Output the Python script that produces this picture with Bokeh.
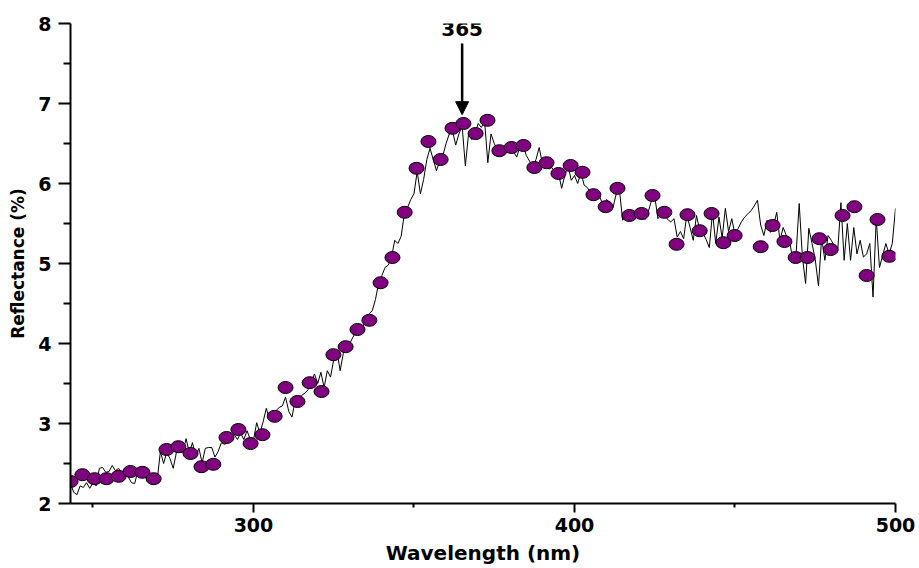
from bokeh.plotting import figure
from bokeh.models import Range1d, FixedTicker, Arrow, NormalHead, Label, ColumnDataSource
from bokeh.embed import file_html
from bokeh.resources import INLINE

# ---- data ----
line_wl = list(range(243, 501))
line_refl = [
    2.25, 2.14, 2.11, 2.22, 2.20, 2.26, 2.19, 2.26, 2.22, 2.44,
    2.45, 2.39, 2.40, 2.475, 2.41, 2.44, 2.37, 2.41, 2.33, 2.26,
    2.25, 2.41, 2.33, 2.35, 2.29, 2.33, 2.29, 2.29, 2.65, 2.50,
    2.64, 2.56, 2.44, 2.64, 2.64, 2.64, 2.81, 2.64, 2.76, 2.575,
    2.69, 2.51, 2.69, 2.70, 2.70, 2.58, 2.65, 2.76, 2.74, 2.76,
    2.83, 2.86, 2.80, 2.88, 2.80, 2.91, 2.80, 2.79, 3.01, 2.88,
    3.02, 3.19, 3.04, 3.10, 3.16, 3.20, 3.22, 3.33, 3.15, 3.08,
    3.29, 3.33, 3.35, 3.38, 3.42, 3.51, 3.62, 3.50, 3.64, 3.45,
    3.66, 3.58, 3.80, 3.91, 3.66, 3.88, 3.95, 4.00, 4.08, 4.15,
    4.20, 4.20, 4.30, 4.37, 4.41, 4.55, 4.76, 4.85, 4.95, 4.98,
    5.08, 5.29, 5.25, 5.34, 5.62, 5.70, 5.80, 5.87, 6.15, 5.87,
    6.05, 6.30, 6.44, 6.30, 6.16, 6.28, 6.35, 6.50, 6.62, 6.66,
    6.48, 6.62, 6.72, 6.22, 6.62, 6.55, 6.62, 6.75, 6.70, 6.78,
    6.26, 6.62, 6.50, 6.42, 6.40, 6.42, 6.38, 6.45, 6.40, 6.33,
    6.46, 6.47, 6.35, 6.28, 6.20, 6.30, 6.45, 6.25, 6.26, 6.18,
    6.20, 6.12, 6.13, 5.94, 6.10, 6.22, 6.04, 6.10, 6.00, 6.14,
    5.98, 5.95, 5.88, 5.86, 5.92, 5.82, 5.72, 5.80, 5.76, 5.70,
    5.87, 5.92, 5.54, 5.62, 5.60, 5.55, 5.62, 5.58, 5.62, 5.55,
    5.65, 5.79, 5.84, 5.56, 5.62, 5.64, 5.55, 5.52, 5.56, 5.33,
    5.40, 5.31, 5.61, 5.45, 5.29, 5.60, 5.42, 5.38, 5.30, 5.20,
    5.64, 5.25, 5.58, 5.32, 5.69, 5.40, 5.56, 5.36, 5.44, 5.52,
    5.58, 5.62, 5.66, 5.72, 5.79, 5.48, 5.35, 5.54, 5.39, 5.47,
    5.64, 5.29, 5.45, 5.35, 5.29, 5.04, 5.10, 5.75, 5.08, 4.75,
    5.44, 5.25, 5.05, 4.72, 5.32, 5.04, 5.35, 5.29, 5.22, 5.16,
    5.76, 5.04, 5.50, 5.04, 5.45, 5.12, 5.29, 5.08, 5.12, 5.25,
    4.58, 5.56, 4.95, 5.10, 5.25, 5.12, 5.25, 5.69,
]

marker_wl = [
    243.0, 246.7, 250.5, 254.2, 258.0, 261.7, 265.4, 268.9, 272.9, 276.6,
    280.4, 283.8, 287.5, 291.6, 295.3, 299.1, 302.8, 306.6, 310.0, 313.7,
    317.5, 321.2, 324.9, 328.7, 332.4, 336.1, 339.6, 343.3, 347.1, 350.8,
    354.5, 358.3, 362.0, 365.4, 369.2, 372.9, 376.6, 380.4, 384.1, 387.5,
    391.3, 395.0, 398.8, 402.5, 405.9, 409.7, 413.4, 417.1, 420.9, 424.3,
    428.0, 431.8, 435.2, 439.0, 442.7, 446.4, 449.9, 458.0, 461.7, 465.4,
    468.9, 472.6, 476.3, 479.8, 483.5, 487.2, 491.0, 494.4, 498.1,
]
marker_refl = [
    2.275, 2.36, 2.31, 2.31, 2.34, 2.40, 2.39, 2.31, 2.675, 2.71,
    2.625, 2.46, 2.49, 2.825, 2.925, 2.75, 2.86, 3.09, 3.45, 3.275,
    3.51, 3.40, 3.86, 3.96, 4.175, 4.29, 4.76, 5.075, 5.64, 6.19,
    6.525, 6.30, 6.69, 6.75, 6.625, 6.79, 6.41, 6.45, 6.475, 6.20,
    6.26, 6.125, 6.225, 6.14, 5.86, 5.71, 5.94, 5.60, 5.625, 5.85,
    5.64, 5.24, 5.61, 5.41, 5.625, 5.26, 5.35, 5.21, 5.475, 5.275,
    5.075, 5.075, 5.31, 5.175, 5.60, 5.71, 4.85, 5.55, 5.09,
]

x_ticks = [300, 400, 500]
x_minor = [250, 350, 450]
y_ticks = [2, 3, 4, 5, 6, 7, 8]
y_minor = [2.5, 3.5, 4.5, 5.5, 6.5, 7.5]

peak_wl = 365
arrow_top = 7.75
arrow_tip = 6.86
peak_label_y = 7.93

FONT = "DejaVu Sans"

p = figure(width=919, height=568, output_backend="svg", toolbar_location=None,
           x_range=Range1d(243, 500), y_range=Range1d(2, 8),
           min_border_left=70, min_border_right=24, min_border_top=23,
           min_border_bottom=65)
p.outline_line_color = None
p.grid.visible = False
p.background_fill_color = "white"

line_src = ColumnDataSource(dict(x=line_wl[:len(line_refl)], y=line_refl))
p.line("x", "y", source=line_src, line_color="black", line_width=1)

mk_src = ColumnDataSource(dict(x=marker_wl, y=marker_refl))
p.ellipse("x", "y", source=mk_src, width=15, height=12,
          width_units="screen", height_units="screen",
          fill_color="#800080", line_color="black", line_width=1)

# Axes
xa = p.xaxis[0]
xa.ticker = FixedTicker(ticks=x_ticks, minor_ticks=x_minor)
xa.axis_label = "Wavelength (nm)"
ya = p.yaxis[0]
ya.ticker = FixedTicker(ticks=y_ticks, minor_ticks=y_minor)
ya.axis_label = "Reflectance (%)"

for ax in (xa, ya):
    ax.axis_line_width = 2
    ax.major_tick_line_width = 2
    ax.minor_tick_line_width = 2
    ax.major_tick_in = 0
    ax.minor_tick_in = 0
    ax.major_label_text_font = FONT
    ax.major_label_text_font_style = "bold"
    ax.major_label_text_color = "black"
    ax.axis_label_text_font = FONT
    ax.axis_label_text_font_style = "bold"
    ax.axis_label_text_color = "black"

xa.major_tick_out = 9
xa.minor_tick_out = 4
xa.major_label_text_font_size = "19px"
xa.major_label_standoff = 5
xa.axis_label_text_font_size = "20px"
xa.axis_label_standoff = 6

ya.major_tick_out = 12
ya.minor_tick_out = 7
ya.major_label_text_font_size = "19px"
ya.major_label_standoff = 7
ya.axis_label_text_font_size = "17px"
ya.axis_label_standoff = 7

# Peak annotation
p.add_layout(Arrow(end=NormalHead(size=13, fill_color="black", line_color="black"),
                   x_start=peak_wl, y_start=arrow_top, x_end=peak_wl, y_end=arrow_tip,
                   line_width=2.5, line_color="black"))
p.add_layout(Label(x=peak_wl, y=peak_label_y, text=str(peak_wl),
                   text_align="center", text_baseline="middle",
                   text_font=FONT, text_font_style="bold", text_font_size="20px",
                   text_color="black"))

open("out.html", "w").write(file_html(p, INLINE))
